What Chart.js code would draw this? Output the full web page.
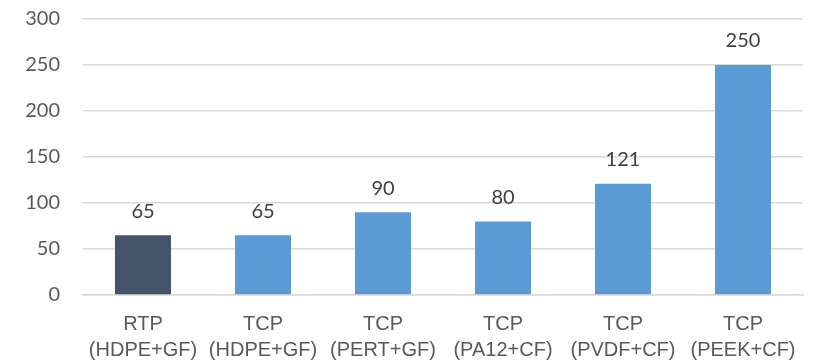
<!DOCTYPE html>
<html>
<head>
<meta charset="utf-8">
<script src="https://cdn.jsdelivr.net/npm/chart.js@4"></script>
<style>
html,body{margin:0;padding:0;background:#fff;}
#wrap{width:815px;height:364px;}
</style>
</head>
<body>
<div id="wrap"><canvas id="c" width="815" height="364"></canvas></div>
<script>
const categories = [["RTP","(HDPE+GF)"],["TCP","(HDPE+GF)"],["TCP","(PERT+GF)"],["TCP","(PA12+CF)"],["TCP","(PVDF+CF)"],["TCP","(PEEK+CF)"]];
const values = [65, 65, 90, 80, 121, 250];
const barColors = ["#44546A","#5B9BD5","#5B9BD5","#5B9BD5","#5B9BD5","#5B9BD5"];
const yMin = 0, yMax = 300, yStep = 50;

const labelPlugin = {
  id: 'valueLabels',
  afterDatasetsDraw(chart) {
    const ctx = chart.ctx;
    const meta = chart.getDatasetMeta(0);
    ctx.save();
    ctx.font = '20px Lato, "Open Sans", sans-serif';
    ctx.fillStyle = '#404040';
    ctx.textAlign = 'center';
    ctx.textBaseline = 'middle';
    meta.data.forEach((bar, i) => {
      ctx.fillText(String(values[i]), bar.x, bar.y - 24);
    });
    ctx.restore();
  }
};

new Chart(document.getElementById('c'), {
  type: 'bar',
  data: {
    labels: categories,
    datasets: [{
      data: values,
      backgroundColor: barColors,
      borderWidth: 0,
      barPercentage: 0.467,
      categoryPercentage: 1
    }]
  },
  options: {
    responsive: false,
    animation: false,
    devicePixelRatio: 1,
    layout: { padding: { top: 19, right: 12, left: 0, bottom: 0 } },
    plugins: { legend: { display: false }, tooltip: { enabled: false } },
    scales: {
      x: {
        grid: { display: false },
        border: { display: true, color: '#d9d9d9', width: 1.5 },
        ticks: {
          color: '#595959',
          font: { family: '"Liberation Sans Narrow", "Liberation Sans", sans-serif', size: 20, lineHeight: 1.3 },
          padding: 8,
          maxRotation: 0,
          autoSkip: false
        },
        afterFit(scale) { scale.height = 69; }
      },
      y: {
        min: yMin, max: yMax,
        grid: { color: '#d9d9d9', lineWidth: 1.5, drawTicks: false },
        border: { display: false },
        ticks: {
          stepSize: yStep,
          color: '#595959',
          font: { family: 'Lato, "Open Sans", sans-serif', size: 20 },
          padding: 23
        },
        afterFit(scale) { scale.width = 83; scale.paddingTop = 0; scale.paddingBottom = 0; }
      }
    }
  },
  plugins: [labelPlugin]
});
</script>
</body>
</html>
